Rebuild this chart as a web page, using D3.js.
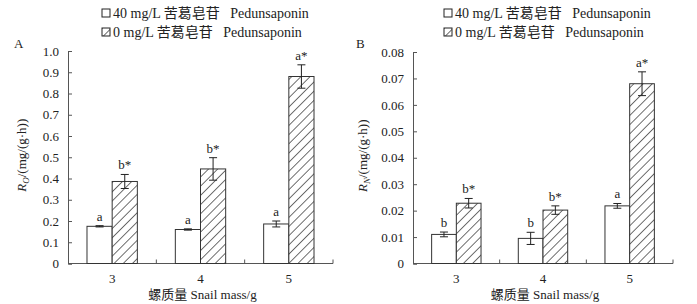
<!DOCTYPE html>
<html>
<head>
<meta charset="utf-8">
<script src="https://cdn.jsdelivr.net/npm/d3@7"></script>
<style>
  body { margin: 0; background: #fff; }
  svg text { font-family: "Liberation Serif", "Noto Sans CJK SC", serif; fill: #222; }
</style>
</head>
<body>
<svg id="chart" width="697" height="304"></svg>
<script>
const categories = ["3", "4", "5"];
const seriesNames = ["40 mg/L 苦葛皂苷\u00a0\u00a0\u00a0Pedunsaponin", "0 mg/L 苦葛皂苷\u00a0\u00a0\u00a0Pedunsaponin"];

// Panel A: R_O
const roTreated = [0.175, 0.160, 0.186];
const roTreatedErr = [0.003, 0.003, 0.014];
const roControl = [0.386, 0.445, 0.880];
const roControlErr = [0.033, 0.053, 0.055];
const roLabelsTreated = ["a", "a", "a"];
const roLabelsControl = ["b*", "b*", "a*"];
const roTicks = [0, 0.1, 0.2, 0.3, 0.4, 0.5, 0.6, 0.7, 0.8, 0.9, 1.0];

// Panel B: R_N
const rnTreated = [0.0110, 0.0095, 0.0218];
const rnTreatedErr = [0.0009, 0.0023, 0.0009];
const rnControl = [0.0228, 0.0202, 0.0680];
const rnControlErr = [0.0018, 0.0016, 0.0045];
const rnLabelsTreated = ["b", "b", "a"];
const rnLabelsControl = ["b*", "b*", "a*"];
const rnTicks = [0, 0.01, 0.02, 0.03, 0.04, 0.05, 0.06, 0.07, 0.08];

const svg = d3.select("#chart");
const defs = svg.append("defs");
const pat = defs.append("pattern")
  .attr("id", "hatch")
  .attr("patternUnits", "userSpaceOnUse")
  .attr("width", 6.5).attr("height", 6.5)
  .attr("patternTransform", "rotate(45)");
pat.append("rect").attr("width", 6.5).attr("height", 6.5).attr("fill", "#fff");
pat.append("line").attr("x1", 0).attr("y1", 0).attr("x2", 0).attr("y2", 6.5)
  .attr("stroke", "#222").attr("stroke-width", 1.3);

function drawPanel(opt) {
  const g = svg.append("g");
  const x = d3.scaleBand().domain(categories).range([opt.x0, opt.x1]).padding(0);
  const y = d3.scaleLinear().domain([0, opt.max]).range([opt.yBottom, opt.yTop]);
  const half = x.bandwidth() * 0.285;

  // y axis
  const yAxis = d3.axisLeft(y).tickValues(opt.ticks).tickSize(-4).tickPadding(9)
    .tickFormat(opt.fmt);
  const yg = g.append("g").attr("transform", `translate(${opt.x0},0)`).call(yAxis);
  yg.select(".domain").attr("stroke", "#555");
  yg.selectAll(".tick line").attr("stroke", "#555");
  yg.selectAll(".tick text").attr("font-size", 13).attr("fill", "#222")
    .attr("font-family", "Liberation Serif");

  // x axis with ticks between categories pointing up
  g.append("line").attr("x1", opt.x0).attr("x2", opt.x1)
    .attr("y1", opt.yBottom).attr("y2", opt.yBottom).attr("stroke", "#555");
  const bounds = categories.map(c => x(c) + x.bandwidth());
  g.selectAll(".xt").data(bounds).join("line")
    .attr("x1", d => d).attr("x2", d => d)
    .attr("y1", opt.yBottom).attr("y2", opt.yBottom - 4).attr("stroke", "#555");
  g.selectAll(".xl").data(categories).join("text")
    .attr("x", d => x(d) + x.bandwidth() / 2).attr("y", opt.yBottom + 19)
    .attr("text-anchor", "middle").attr("font-size", 13).text(d => d);
  g.append("text").attr("x", (opt.x0 + opt.x1) / 2 + 2).attr("y", 299)
    .attr("text-anchor", "middle").attr("font-size", 13)
    .text("螺质量 Snail mass/g");

  const series = [
    { vals: opt.treated, errs: opt.treatedErr, labels: opt.labelsT, off: -half, fill: "#fff" },
    { vals: opt.control, errs: opt.controlErr, labels: opt.labelsC, off: 0, fill: "url(#hatch)" }
  ];
  series.forEach(s => {
    const cx = c => x(c) + x.bandwidth() / 2 + s.off;
    g.selectAll(null).data(categories).join("rect")
      .attr("x", c => cx(c)).attr("width", half)
      .attr("y", (c, i) => y(s.vals[i]))
      .attr("height", (c, i) => opt.yBottom - y(s.vals[i]))
      .attr("fill", s.fill).attr("stroke", "#333").attr("stroke-width", 1);
    categories.forEach((c, i) => {
      const mx = cx(c) + half / 2;
      const hi = y(s.vals[i] + s.errs[i]);
      const lo = y(s.vals[i] - s.errs[i]);
      g.append("line").attr("x1", mx).attr("x2", mx).attr("y1", hi).attr("y2", lo)
        .attr("stroke", "#222");
      [hi, lo].forEach(yy => g.append("line").attr("x1", mx - 4).attr("x2", mx + 4)
        .attr("y1", yy).attr("y2", yy).attr("stroke", "#222"));
      g.append("text").attr("x", mx).attr("y", hi - 5)
        .attr("text-anchor", "middle").attr("font-size", 13).text(s.labels[i]);
    });
  });

  // y title
  const yt = g.append("text")
    .attr("transform", `translate(${opt.titleX},${(opt.yTop + opt.yBottom) / 2 - 2}) rotate(-90)`)
    .attr("text-anchor", "middle").attr("font-size", 13);
  yt.append("tspan").attr("font-style", "italic").text("R");
  yt.append("tspan").attr("font-style", "italic").attr("font-size", 9).attr("dy", 3).text(opt.sub);
  yt.append("tspan").attr("dy", -3).text("/(mg/(g·h))");

  // panel letter
  g.append("text").attr("x", opt.letterX).attr("y", 48).attr("font-size", 13).text(opt.letter);

  // legend
  const lg = g.append("g").attr("transform", `translate(${opt.legendX},0)`);
  [0, 1].forEach(i => {
    const yy = 13 + i * 19;
    lg.append("rect").attr("x", 0).attr("y", yy - 4).attr("width", 8).attr("height", 8)
      .attr("fill", i === 0 ? "#fff" : "url(#hatch)").attr("stroke", "#222");
    lg.append("text").attr("x", 11).attr("y", yy + 5).attr("font-size", 14)
      .text(seriesNames[i]);
  });
}

drawPanel({
  x0: 68, x1: 333, yTop: 51, yBottom: 263.5, max: 1.0, ticks: roTicks,
  fmt: d => d === 0 ? "0" : d.toFixed(1),
  treated: roTreated, treatedErr: roTreatedErr, control: roControl, controlErr: roControlErr,
  labelsT: roLabelsTreated, labelsC: roLabelsControl,
  sub: "O", titleX: 26, letter: "A", letterX: 14, legendX: 102
});
drawPanel({
  x0: 413, x1: 673, yTop: 52, yBottom: 263.5, max: 0.08, ticks: rnTicks,
  fmt: d => d === 0 ? "0" : d.toFixed(2),
  treated: rnTreated, treatedErr: rnTreatedErr, control: rnControl, controlErr: rnControlErr,
  labelsT: rnLabelsTreated, labelsC: rnLabelsControl,
  sub: "N", titleX: 367, letter: "B", letterX: 356, legendX: 444
});
</script>
</body>
</html>
